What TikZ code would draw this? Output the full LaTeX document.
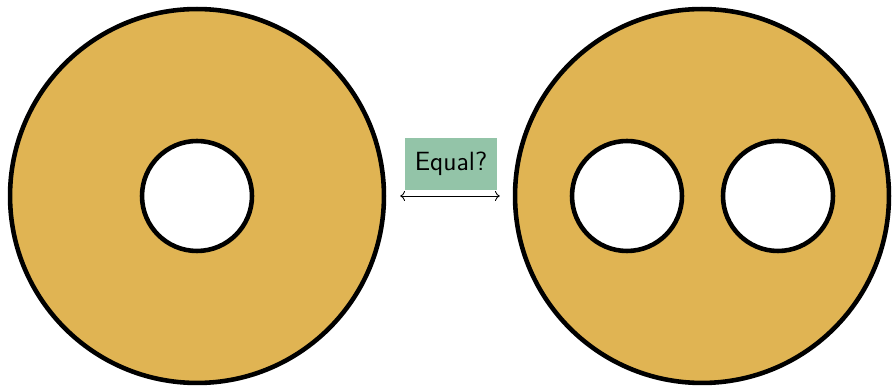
\documentclass[tikz,border=0pt]{standalone}
\usepackage{xcolor}
\usepackage{tikz}
\usetikzlibrary{arrows.meta,positioning,calc}
\definecolor{ringgold}{HTML}{E0B453}
\definecolor{tagmint}{HTML}{93C4A8}

\begin{document}
\begin{tikzpicture}[x=0.02cm,y=0.02cm,
    disc/.style={circle,draw,line width=2.6pt,fill=ringgold,minimum size=7.48cm,inner sep=0pt},
    hole/.style={circle,draw,line width=2.6pt,fill=white,minimum size=2.2cm,inner sep=0pt},
    tag/.style={fill=tagmint,font=\sffamily\fontsize{15}{18}\selectfont,minimum width=1.84cm,minimum height=1.04cm,inner sep=0pt}]
    \useasboundingbox (0,0) rectangle (893,389);
    \node[disc] (torus) at (197,193) {};
    \node[hole] (torushole) at (197,193) {};
    \node[disc] (pretzel) at (702,193) {};
    \node[hole] (pretzelholeL) at (627,193) {};
    \node[hole] (pretzelholeR) at (778,193) {};
    \coordinate (mid) at ($(torus.east)!0.5!(pretzel.west)$);
    \draw[<->,line width=0.5pt,shorten <=0.28cm,shorten >=0.26cm] (torus.east) -- (pretzel.west);
    \node[tag,above=0.12cm of mid,xshift=0.03cm] (question) {Equal?};
  \end{tikzpicture}
\end{document}
